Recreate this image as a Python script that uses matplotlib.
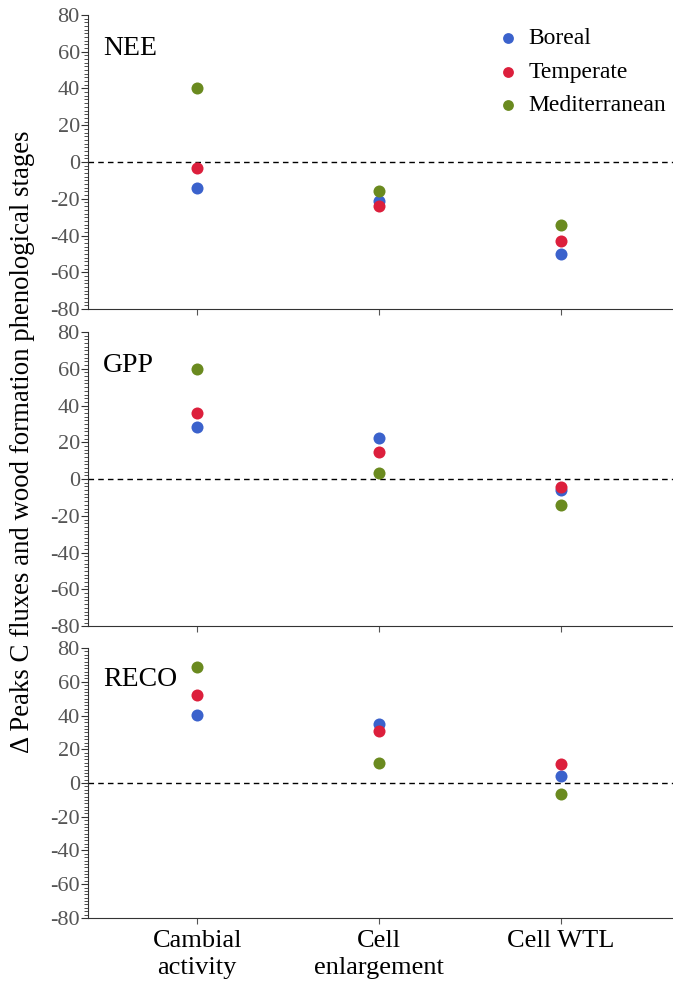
import numpy as np
import matplotlib.pyplot as plt
from matplotlib.ticker import MultipleLocator

plt.rcParams['font.family'] = ['Liberation Serif', 'DejaVu Serif']
plt.rcParams['axes.unicode_minus'] = False

stages = ['Cambial\nactivity', 'Cell\nenlargement', 'Cell WTL']
biomes = ['Boreal', 'Temperate', 'Mediterranean']
colors = ['#3b62cc', '#dc1f3c', '#6a8a1f']
fluxes = ['NEE', 'GPP', 'RECO']

nee_boreal = [-14, -21, -50]
nee_temperate = [-3.5, -24, -43]
nee_mediterranean = [40, -16, -34]

gpp_boreal = [28.5, 22.5, -6]
gpp_temperate = [36, 15, -4.5]
gpp_mediterranean = [60, 3.5, -14]

reco_boreal = [40.5, 35, 4]
reco_temperate = [52, 31, 11]
reco_mediterranean = [68.5, 12, -6.5]

data = {
    'NEE': [nee_boreal, nee_temperate, nee_mediterranean],
    'GPP': [gpp_boreal, gpp_temperate, gpp_mediterranean],
    'RECO': [reco_boreal, reco_temperate, reco_mediterranean],
}

fig = plt.figure(figsize=(6.73, 9.94), dpi=100)
boxes = [
    [0.131, 0.689, 0.869, 0.296],
    [0.131, 0.370, 0.869, 0.296],
    [0.131, 0.0765, 0.869, 0.2715],
]

x = np.arange(len(stages))
axes = []
for flux, box in zip(fluxes, boxes):
    ax = fig.add_axes(box)
    axes.append(ax)
    ax.axhline(0, color='black', linestyle=(0, (4, 3)), linewidth=1.0, zorder=1)
    for vals, name, c in zip(data[flux], biomes, colors):
        ax.scatter(x, vals, s=75, color=c, label=name, zorder=3, linewidths=0)
    ax.set_xlim(-0.6, 2.615)
    ax.set_ylim(-80, 80)
    ax.yaxis.set_major_locator(MultipleLocator(20))
    ax.yaxis.set_minor_locator(MultipleLocator(2))
    ax.tick_params(axis='y', which='major', length=5, labelsize=16, colors='#333333',
                   labelcolor='#555555', pad=1)
    ax.tick_params(axis='y', which='minor', length=3, color='#333333')
    ax.tick_params(axis='x', length=4, color='#555555')
    ax.set_xticks(x)
    ax.set_xticklabels([])
    for side in ['top', 'right']:
        ax.spines[side].set_visible(False)
    ax.spines['left'].set_color('#333333')
    ax.spines['bottom'].set_color('#333333')
    ax.text(0.025, 0.93, flux, transform=ax.transAxes, fontsize=20, va='top', ha='left')

axes[-1].set_xticklabels(stages, fontsize=19, linespacing=1.25)
axes[-1].tick_params(axis='x', pad=5)

axes[0].legend(loc='upper right', bbox_to_anchor=(1.02, 1.02), frameon=False, fontsize=17,
               handletextpad=0.35, labelspacing=0.5, borderpad=0.3, handlelength=1.0,
               markerscale=0.9)

fig.text(0.033, 0.556, '\u0394 Peaks C fluxes and wood formation phenological stages',
         rotation=90, fontsize=19.3, va='center', ha='center')

fig.savefig('out.png', dpi=100)
